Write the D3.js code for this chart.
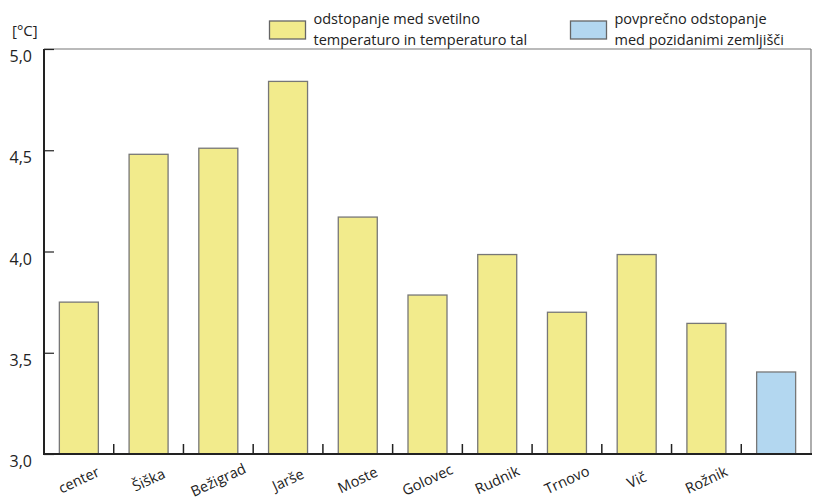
<!DOCTYPE html>
<html><head><meta charset="utf-8">
<script src="https://cdn.jsdelivr.net/npm/d3@7"></script>
<style>body{margin:0;background:#fff}svg{display:block;font-family:"Open Sans",sans-serif}</style>
</head><body><svg id="c" width="813" height="500"></svg>
<script>
const categories = ["center","Šiška","Bežigrad","Jarše","Moste","Golovec","Rudnik","Trnovo","Vič","Rožnik",""];
const values = [3.75,4.48,4.51,4.84,4.17,3.785,3.985,3.70,3.985,3.645,3.405];
const kinds = ["d","d","d","d","d","d","d","d","d","d","avg"];
const yTicks = [3.0,3.5,4.0,4.5,5.0];
const yTickLabels = ["3,0","3,5","4,0","4,5","5,0"];
const legendItems = [
  {kind:"d", lines:["odstopanje med svetilno","temperaturo in temperaturo tal"]},
  {kind:"avg", lines:["povprečno odstopanje","med pozidanimi zemljišči"]}
];
const colors = {d:"#f2eb8c", avg:"#b3d7f0"};

const svg = d3.select("#c");
const L=44, R=811, T=49, B=454;
const x = d3.scaleBand().domain(d3.range(categories.length)).range([L,R]).padding(0);
const y = d3.scaleLinear().domain([3,5]).range([B,T]);
const bw = 39;

// frame
svg.append("line").attr("x1",L).attr("x2",R).attr("y1",T).attr("y2",T).attr("stroke","#777").attr("stroke-width",1.2);
svg.append("line").attr("x1",R).attr("x2",R).attr("y1",T).attr("y2",B).attr("stroke","#777").attr("stroke-width",1.2);

// bars
svg.selectAll("rect.bar").data(values).join("rect")
  .attr("x",(d,i)=>x(i)+(x.bandwidth()-bw)/2)
  .attr("y",d=>y(d)).attr("width",bw).attr("height",d=>B-y(d))
  .attr("fill",(d,i)=>colors[kinds[i]]).attr("stroke","#777").attr("stroke-width",1.3);

// axes
const yAxis = d3.axisRight(y).tickValues(yTicks).tickSize(10).tickFormat("");
const yg = svg.append("g").attr("transform",`translate(${L},0)`).call(yAxis);
yg.select(".domain").remove();
yg.selectAll(".tick line").attr("stroke","#222").attr("stroke-width",1.2);
svg.append("line").attr("x1",L).attr("x2",L).attr("y1",T).attr("y2",B+1).attr("stroke","#222").attr("stroke-width",2);
svg.append("line").attr("x1",L).attr("x2",R+1).attr("y1",B).attr("y2",B).attr("stroke","#222").attr("stroke-width",2);

yTicks.forEach((v,i)=>{
  svg.append("text").attr("x",32).attr("y",y(v)+13).attr("text-anchor","end")
    .attr("font-size",16).attr("fill","#222").text(yTickLabels[i]);
});
svg.append("text").attr("x",12).attr("y",36).attr("font-size",15).attr("fill","#222").text("[°C]");

// x ticks at band boundaries
d3.range(1,categories.length).forEach(i=>{
  svg.append("line").attr("x1",x(i)).attr("x2",x(i)).attr("y1",B).attr("y2",B-10).attr("stroke","#222").attr("stroke-width",1.5);
});
// x labels
categories.forEach((c,i)=>{
  if(!c) return;
  const cx = x(i)+x.bandwidth()/2, cy=485;
  svg.append("text").attr("x",cx).attr("y",cy).attr("text-anchor","middle")
    .attr("transform",`rotate(-25,${cx},${cy-5})`).attr("font-size",14.5).attr("fill","#222").text(c);
});

// legend
const lx=[269.5,570.5];
legendItems.forEach((it,j)=>{
  svg.append("rect").attr("x",lx[j]).attr("y",21).attr("width",36).attr("height",18)
    .attr("fill",colors[it.kind]).attr("stroke","#666").attr("stroke-width",1.3);
  it.lines.forEach((ln,k)=>{
    svg.append("text").attr("x",lx[j]+44).attr("y",24+k*21).attr("font-size",14.5).attr("fill","#222").text(ln);
  });
});
</script></body></html>
